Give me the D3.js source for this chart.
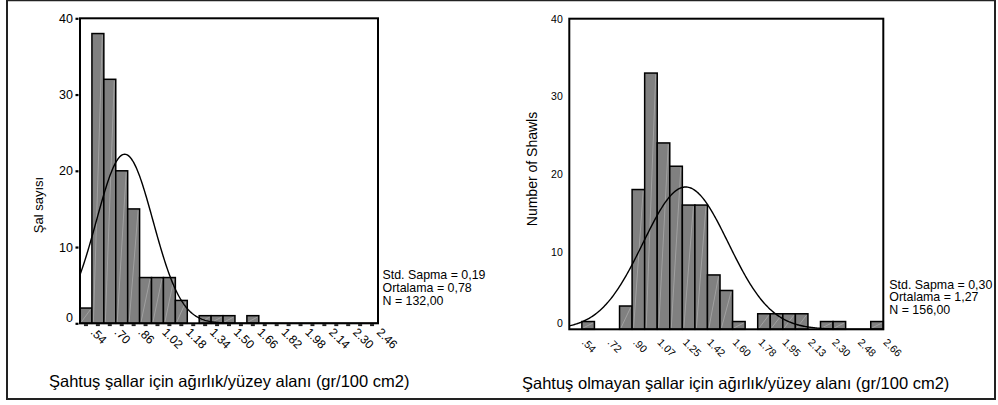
<!DOCTYPE html>
<html>
<head>
<meta charset="utf-8">
<script src="https://cdn.jsdelivr.net/npm/d3@7"></script>
<style>
  html, body { margin: 0; padding: 0; background: #fff; }
  svg { display: block; font-family: "Liberation Sans", Arial, sans-serif; }
</style>
</head>
<body>
<svg id="fig" width="998" height="405"></svg>
<script>
// Şahtuş shawls: weight / surface area, bins of 0.08 starting at 0.48
const leftBinStart = 0.48;
const leftBinWidth = 0.08;
const leftCounts = [2, 38, 32, 20, 15, 6, 6, 6, 3, 0, 1, 1, 1, 0, 1, 0, 0, 0, 0, 0, 0, 0, 0, 0, 0];
const leftTickValues = [0.54, 0.70, 0.86, 1.02, 1.18, 1.34, 1.50, 1.66, 1.82, 1.98, 2.14, 2.30, 2.46];
const leftStatValues = [0.19, 0.78, 132];

// Non-şahtuş shawls: bins of 0.0883 starting at 0.4517
const rightBinStart = 0.4517;
const rightBinWidth = 0.08833;
const rightCounts = [0, 1, 0, 0, 3, 18, 33, 24, 21, 16, 16, 7, 5, 1, 0, 2, 2, 2, 2, 0, 1, 1, 0, 0, 1];
const rightTickValues = [0.54, 0.72, 0.90, 1.07, 1.25, 1.42, 1.60, 1.78, 1.95, 2.13, 2.30, 2.48, 2.66];
const rightStatValues = [0.30, 1.27, 156];

const yTickValues = [0, 10, 20, 30, 40];
const statNames = ["Std. Sapma", "Ortalama", "N"];
const leftTitle = "Şahtuş şallar için ağırlık/yüzey alanı (gr/100 cm2)";
const rightTitle = "Şahtuş olmayan şallar için ağırlık/yüzey alanı (gr/100 cm2)";
const leftYTitle = "Şal sayısı";
const rightYTitle = "Number of Shawls";

const svg = d3.select("#fig");

// outer figure border
const border = svg.append("g").attr("stroke", "#222").attr("stroke-width", 2).attr("fill", "none");
border.append("path").attr("d", "M7,0 V399 H995 V0");
border.append("line").attr("x1", 7).attr("x2", 995).attr("y1", 0.5).attr("y2", 0.5).attr("stroke-width", 1.5);

const fmtTick = v => d3.format(".2f")(v).replace(/^0/, "");
const fmtStat = v => v.toFixed(2).replace(".", ",");

function drawPanel(p) {
  const nb = p.counts.length;
  const x = d3.scaleLinear().domain([p.binStart, p.binStart + nb * p.binWidth]).range([p.left, p.right]);
  const y = d3.scaleLinear().domain([0, 40]).range([p.bottom, p.top]);
  const g = svg.append("g");

  const bins = p.counts.map((c, i) => ({ x0: p.binStart + i * p.binWidth, x1: p.binStart + (i + 1) * p.binWidth, c }))
    .filter(d => d.c > 0);

  // bars
  g.append("g").selectAll("rect").data(bins).join("rect")
    .attr("x", d => x(d.x0))
    .attr("y", d => y(d.c))
    .attr("width", d => x(d.x1) - x(d.x0))
    .attr("height", d => y(0) - y(d.c))
    .attr("fill", "#808080")
    .attr("stroke", "#000")
    .attr("stroke-width", 1.5);

  // faint corner-to-corner streak inside each bar
  g.append("g").selectAll("line").data(bins).join("line")
    .attr("x1", d => x(d.x0) + 1.5).attr("y1", y(0) - 1.5)
    .attr("x2", d => x(d.x1) - 1.5).attr("y2", d => y(d.c) + 1.5)
    .attr("stroke", "#b4b4b4").attr("stroke-width", 0.8).attr("opacity", 0.8);

  // fitted normal curve
  const [sd, mean, n] = p.stats;
  const peak = n * p.binWidth / (sd * Math.sqrt(2 * Math.PI));
  const dom = x.domain();
  const pts = d3.range(0, 301).map(i => dom[0] + (dom[1] - dom[0]) * i / 300);
  g.append("path")
    .datum(pts)
    .attr("fill", "none")
    .attr("stroke", "#000")
    .attr("stroke-width", 1.4)
    .attr("d", d3.line().x(v => x(v)).y(v => y(peak * Math.exp(-0.5 * Math.pow((v - mean) / sd, 2)))));

  // plot frame
  g.append("rect")
    .attr("x", p.left).attr("y", p.top)
    .attr("width", p.right - p.left).attr("height", p.bottom - p.top)
    .attr("fill", "none").attr("stroke", "#000").attr("stroke-width", 2);

  // bin tick dashes under the baseline
  if (p.dashes) {
    g.append("g").selectAll("rect").data(p.counts.map((c, i) => p.binStart + (i + 0.5) * p.binWidth)).join("rect")
      .attr("x", v => x(v) - 2).attr("y", p.bottom + 0.8)
      .attr("width", 4).attr("height", 2)
      .attr("fill", "#222");
  }

  // y axis
  const ya = g.append("g")
    .attr("transform", `translate(${p.left},0)`)
    .call(d3.axisLeft(y).tickValues(yTickValues).tickSize(p.yTickSize).tickPadding(p.yTickPad).tickFormat(d3.format("d")));
  ya.select(".domain").remove();
  ya.selectAll(".tick line").attr("stroke", "#000").attr("stroke-width", 2.2).attr("transform", "translate(-1.5,0)");
  ya.selectAll(".tick text")
    .attr("fill", "#000")
    .style("font-family", "'Liberation Sans', Arial, sans-serif")
    .style("font-size", p.yFont + "px")
    .attr("dy", d => d === 0 ? (p.zeroShift + "px") : "0.32em");

  // x tick labels, rotated
  g.append("g").selectAll("text").data(p.ticks).join("text")
    .attr("transform", v => `translate(${x(v) + p.xLabelDx},${p.xLabelY}) rotate(45)`)
    .attr("text-anchor", "start")
    .style("font-size", p.xFont + "px")
    .attr("fill", "#000")
    .text(fmtTick);

  // y title
  g.append("text")
    .attr("transform", `translate(${p.yTitleX},${p.yTitleY}) rotate(-90)`)
    .attr("text-anchor", "middle")
    .attr("dy", "0.35em")
    .style("font-size", p.yTitleFont + "px")
    .attr("fill", "#000")
    .text(p.yTitle);

  // x title
  g.append("text")
    .attr("x", p.titleX)
    .attr("y", p.titleY)
    .attr("text-anchor", "start")
    .attr("dy", "0.35em")
    .style("font-size", p.titleFont + "px")
    .attr("fill", "#000")
    .text(p.title);

  // summary statistics
  g.append("g").selectAll("text").data(p.stats).join("text")
    .attr("x", p.statsX)
    .attr("y", (d, i) => p.statsY + i * 12.6)
    .attr("dy", "0.35em")
    .style("font-size", "12.4px")
    .attr("fill", "#000")
    .text((d, i) => `${statNames[i]} = ${fmtStat(d)}`);
}

drawPanel({
  counts: leftCounts, binStart: leftBinStart, binWidth: leftBinWidth,
  ticks: leftTickValues, stats: leftStatValues,
  left: 80, right: 378, top: 18.3, bottom: 323.3,
  yTickSize: 3, yTickPad: 4, yFont: 12.5, zeroShift: -1.5,
  dashes: true,
  xLabelDx: 1, xLabelY: 333, xFont: 12,
  yTitle: leftYTitle, yTitleX: 38, yTitleY: 205, yTitleFont: 13,
  title: leftTitle, titleX: 49, titleY: 381, titleFont: 16.5,
  statsX: 382.5, statsY: 275
});

drawPanel({
  counts: rightCounts, binStart: rightBinStart, binWidth: rightBinWidth,
  ticks: rightTickValues, stats: rightStatValues,
  left: 569.3, right: 883.3, top: 18.7, bottom: 329.3,
  yTickSize: 0, yTickPad: 6.5, yFont: 10.5, zeroShift: -2.5,
  dashes: false,
  xLabelDx: -0.5, xLabelY: 343, xFont: 10.5,
  yTitle: rightYTitle, yTitleX: 532, yTitleY: 169, yTitleFont: 14,
  title: rightTitle, titleX: 522, titleY: 383.5, titleFont: 16.5,
  statsX: 889.3, statsY: 284.3
});
</script>
</body>
</html>
